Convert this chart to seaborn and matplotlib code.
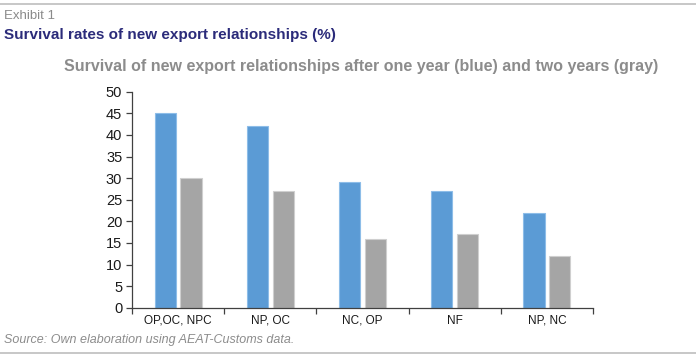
import pandas as pd
import seaborn as sns
import matplotlib.pyplot as plt
from matplotlib.lines import Line2D
import numpy as np

categories = ['OP,OC, NPC', 'NP, OC', 'NC, OP', 'NF', 'NP, NC']
one_year = [45, 42, 29, 27, 22]
two_years = [30, 27, 16, 17, 12]
y_ticks = list(range(0, 55, 5))

df = pd.DataFrame({
    'cat': categories * 2,
    'value': one_year + two_years,
    'series': ['one'] * 5 + ['two'] * 5,
})

sns.set_style('white')
plt.rcParams['font.family'] = ['Liberation Sans', 'DejaVu Sans']

fig = plt.figure(figsize=(6.96, 3.61), dpi=100)
ax = fig.add_axes([0.1897, 0.1476, 0.852 - 0.1897, 0.746 - 0.1476])

sns.barplot(data=df, x='cat', y='value', hue='series', order=categories,
            palette={'one': '#5B9BD5', 'two': '#A5A5A5'},
            width=0.56, gap=0.18, legend=False, ax=ax, saturation=1)

# lighter outline like the original
for cont, ec in zip(ax.containers, ['#8DBDE8', '#CFCFCF']):
    for p in cont:
        p.set_edgecolor(ec)
        p.set_linewidth(0.8)

ax.set_ylim(0, 50)
ax.set_yticks(y_ticks)
ax.set_xlim(-0.5, len(categories) - 0.5)
ax.set_xlabel('')
ax.set_ylabel('')
for s in ['top', 'right']:
    ax.spines[s].set_visible(False)
for s in ['left', 'bottom']:
    ax.spines[s].set_color('#404040')
    ax.spines[s].set_linewidth(0.9)

ax.tick_params(axis='y', which='major', direction='out', length=4, width=0.9,
               color='#404040', labelsize=10.5, pad=3, left=True)
ax.tick_params(axis='x', which='major', length=0, labelsize=8.5, pad=5)
ax.set_xticks(np.arange(-0.5, len(categories)), minor=True)
ax.tick_params(axis='x', which='minor', direction='out', length=4, width=0.9,
               color='#404040', bottom=True)
for lab in ax.get_xticklabels() + ax.get_yticklabels():
    lab.set_color('#1a1a1a')

fig.text(0.006, 0.955, 'Exhibit 1', fontsize=9.5, color='#8a8a8a', va='center')
fig.text(0.006, 0.903, 'Survival rates of new export relationships (%)',
         fontsize=11, fontweight='bold', color='#2B2B7A', va='center')
fig.text(0.519, 0.817,
         'Survival of new export relationships after one year (blue) and two years (gray)',
         fontsize=11.5, fontweight='bold', color='#8C8C8C', ha='center', va='center')
fig.text(0.006, 0.058, 'Source: Own elaboration using AEAT-Customs data.',
         fontsize=9, style='italic', color='#8C8C8C', va='center')

fig.add_artist(Line2D([0, 1], [0.989, 0.989], color='#BDBDBD', lw=1.2,
                      transform=fig.transFigure))
fig.add_artist(Line2D([0, 1], [0.022, 0.022], color='#BDBDBD', lw=1.2,
                      transform=fig.transFigure))

fig.savefig('out.png', dpi=100)
